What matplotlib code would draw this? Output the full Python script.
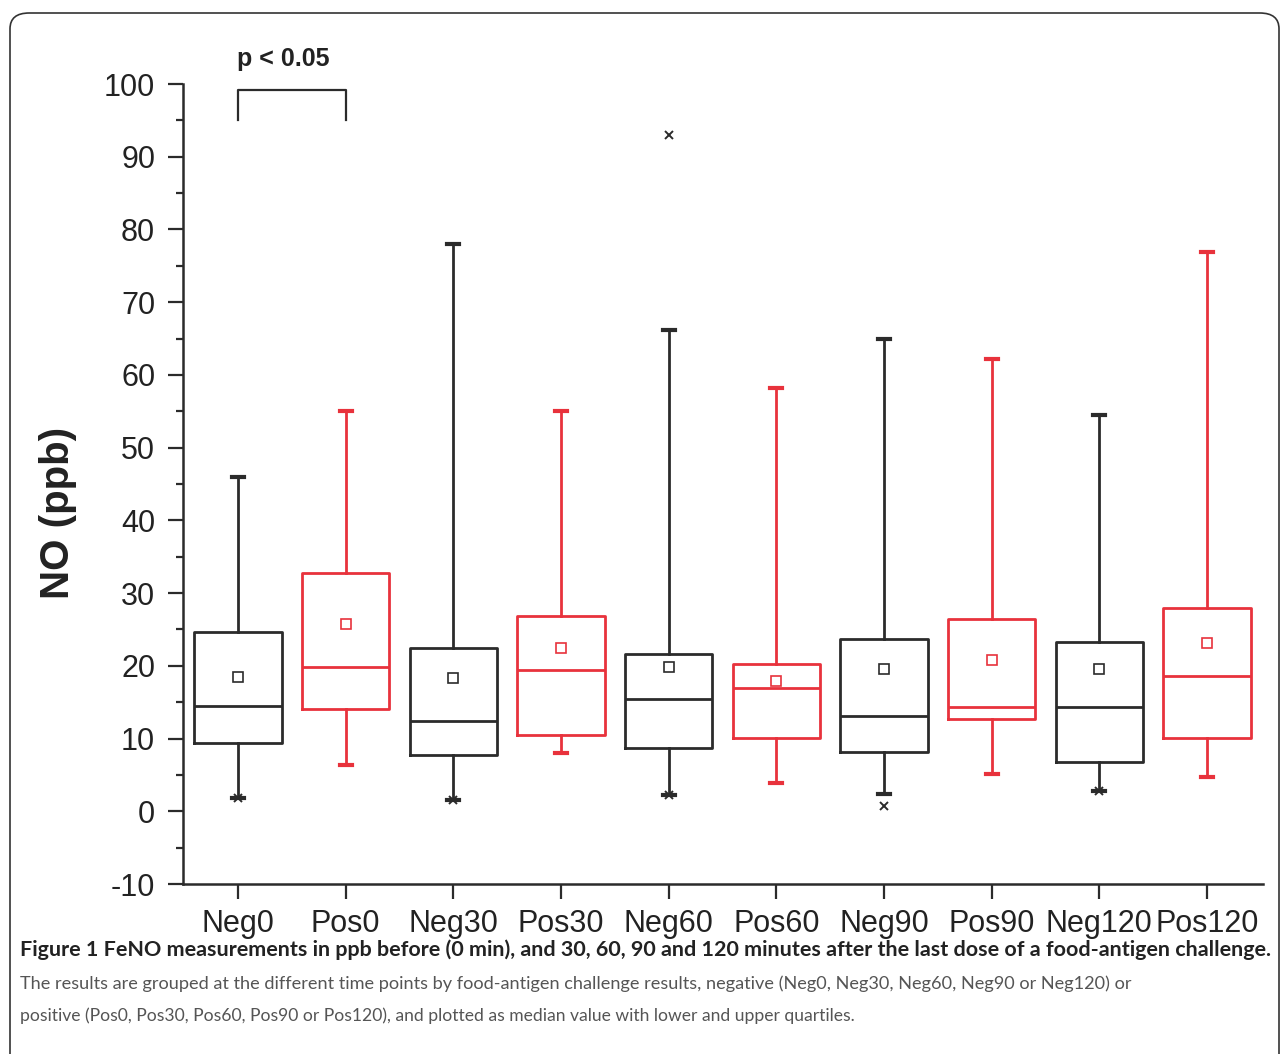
import matplotlib
matplotlib.use('Agg')
import matplotlib.pyplot as plt
from matplotlib.patches import FancyBboxPatch
import numpy as np

# Data (ppb)
labels = ['Neg0', 'Pos0', 'Neg30', 'Pos30', 'Neg60', 'Pos60', 'Neg90', 'Pos90', 'Neg120', 'Pos120']
whislo = [1.8, 6.3, 1.5, 8.0, 2.2, 3.9, 2.4, 5.1, 2.8, 4.7]
q1 = [9.4, 14.1, 7.8, 10.5, 8.7, 10.1, 8.1, 12.7, 6.8, 10.1]
med = [14.5, 19.9, 12.4, 19.4, 15.4, 17.0, 13.1, 14.4, 14.3, 18.6]
q3 = [24.7, 32.8, 22.5, 26.8, 21.6, 20.3, 23.7, 26.4, 23.3, 28.0]
whishi = [45.9, 55.0, 78.0, 55.1, 66.2, 58.2, 64.9, 62.2, 54.5, 76.9]
means = [18.5, 25.8, 18.3, 22.5, 19.8, 17.9, 19.5, 20.8, 19.6, 23.1]
# min / max markers (x) shown per group
extremes = [[1.8], [], [1.5], [], [2.2, 93.0], [], [0.7], [], [2.8], []]
sig_pair = (0, 1)
sig_text = 'p < 0.05'

caption = [
    'Figure 1 FeNO measurements in ppb before (0 min), and 30, 60, 90 and 120 minutes after the last dose of a food-antigen challenge.',
    'The results are grouped at the different time points by food-antigen challenge results, negative (Neg0, Neg30, Neg60, Neg90 or Neg120) or',
    'positive (Pos0, Pos30, Pos60, Pos90 or Pos120), and plotted as median value with lower and upper quartiles.',
]

BLACK = '#2b2b2b'
RED = '#e8323c'
colors = [BLACK if l.startswith('Neg') else RED for l in labels]

plt.rcParams['font.family'] = ['Liberation Sans', 'DejaVu Sans']
plt.rcParams['axes.unicode_minus'] = False

fig = plt.figure(figsize=(12.82, 10.54), dpi=100)
W, H = 1282, 1054
ax = fig.add_axes([183 / W, 1 - 884 / H, 1080 / W, 800 / H])

stats = []
for i in range(len(labels)):
    stats.append(dict(label=labels[i], whislo=whislo[i], q1=q1[i], med=med[i],
                      q3=q3[i], whishi=whishi[i], mean=means[i], fliers=[]))

pos = np.arange(len(labels))
for i, s in enumerate(stats):
    c = colors[i]
    ax.bxp([s], positions=[pos[i]], widths=0.81, showmeans=True, capwidths=0.11,
           boxprops=dict(color=c, linewidth=2.0),
           medianprops=dict(color=c, linewidth=2.0),
           whiskerprops=dict(color=c, linewidth=2.0),
           capprops=dict(color=c, linewidth=3.0),
           meanprops=dict(marker='s', markerfacecolor='none', markeredgecolor=c,
                          markersize=6.5, markeredgewidth=1.2))
    if extremes[i]:
        ax.plot([pos[i]] * len(extremes[i]), extremes[i], linestyle='none', marker='x',
                color=c, markersize=6, markeredgewidth=1.4)

ax.set_xlim(-0.51, 9.52)
ax.set_ylim(-10, 100)
ax.set_xticks(pos)
ax.set_xticklabels(labels)
ax.set_yticks(np.arange(-10, 101, 10))
ax.set_yticks(np.arange(-5, 100, 10), minor=True)

for side in ['top', 'right']:
    ax.spines[side].set_visible(False)
for side in ['left', 'bottom']:
    ax.spines[side].set_linewidth(1.8)
    ax.spines[side].set_color(BLACK)
ax.tick_params(axis='both', which='major', direction='out', length=11, width=1.6,
               labelsize=22, color=BLACK, labelcolor='#222222')
ax.tick_params(axis='y', which='major', pad=9)
ax.tick_params(axis='x', which='major', pad=7)
ax.tick_params(axis='y', which='minor', direction='out', length=5, width=1.6, color=BLACK)

# significance bracket
x0, x1 = pos[sig_pair[0]], pos[sig_pair[1]]
ax.plot([x0, x0, x1, x1], [95.0, 99.2, 99.2, 95.0], color=BLACK, linewidth=1.6, clip_on=False)
ax.text((x0 + x1) / 2 - 0.08, 103.5, sig_text, ha='center', va='center', fontsize=18,
        fontweight='bold', color='#222222', clip_on=False)

fig.text(58 / W, 1 - 513 / H, 'NO (ppb)', rotation=90, ha='center', va='center',
         fontsize=29, fontweight='bold', color='#222222')

# caption, each line sized to the width it takes in the original
cap_font = ['Lato', 'DejaVu Sans']
cap_y = [950, 984, 1016]
cap_right = [1272, 1136, 857]
cap_texts = []
for k in range(3):
    t = fig.text(20 / W, 1 - cap_y[k] / H, caption[k], ha='left', va='center', fontsize=15,
                 fontweight='bold' if k == 0 else 'normal',
                 color='#222222' if k == 0 else '#555555', family=cap_font)
    cap_texts.append(t)
fig.canvas.draw()
r = fig.canvas.get_renderer()
for k, t in enumerate(cap_texts):
    w = t.get_window_extent(r).width
    t.set_fontsize(15 * (cap_right[k] - 20) / w)

# rounded frame around the figure
frame = FancyBboxPatch((10 / W, -0.05), 1269 / W, (1054 - 13) / H + 0.05,
                       boxstyle='round,pad=0,rounding_size=0.015', transform=fig.transFigure,
                       facecolor='none', edgecolor='#333333', linewidth=1.2, clip_on=False)
fig.patches.append(frame)

fig.savefig('out.png', dpi=100)
